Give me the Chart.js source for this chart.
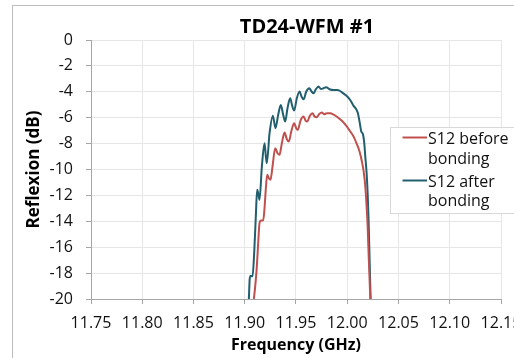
<!DOCTYPE html>
<html>
<head>
<meta charset="utf-8">
<script src="https://cdn.jsdelivr.net/npm/chart.js@4.4.0/dist/chart.umd.min.js"></script>
<style>
  html, body { margin: 0; padding: 0; background: #fff; overflow: hidden; width: 514px; height: 358px; }
  #wrap { position: absolute; left: 0; top: 0; width: 614px; height: 358px; }
</style>
</head>
<body>
<div id="wrap"><canvas id="c"></canvas></div>
<script>
const chartTitle = 'TD24-WFM #1';
const xTitle = 'Frequency (GHz)';
const yTitle = 'Reflexion (dB)';
const seriesNames = ['S12 before bonding', 'S12 after bonding'];
const legendLines = [['S12 before', 'bonding'], ['S12 after', 'bonding']];

const freqBefore = [11.9089, 11.9102, 11.9118, 11.9131, 11.9144, 11.9157, 11.9180, 11.9193, 11.9206, 11.9219,
  11.9235, 11.9251, 11.9271, 11.9297, 11.9320, 11.9339, 11.9362, 11.9388, 11.9411, 11.9430,
  11.9456, 11.9482, 11.9502, 11.9518, 11.9544, 11.9574, 11.9593, 11.9609, 11.9635, 11.9661,
  11.9681, 11.9701, 11.9727, 11.9753, 11.9775, 11.9801, 11.9834, 11.9867, 11.9906, 11.9945,
  11.9984, 12.0023, 12.0062, 12.0094, 12.0120, 12.0143, 12.0160, 12.0176, 12.0189, 12.0199,
  12.0208, 12.0218, 12.0225];
const s12Before = [-20, -19.02, -17.48, -15.68, -14.14, -13.93, -13.93, -12.98, -11.44, -10.41,
  -10.67, -10.8, -9.77, -8.35, -8.74, -8.87, -7.97, -7.15, -7.66, -7.84,
  -6.99, -6.43, -6.81, -6.94, -6.22, -5.91, -6.22, -6.3, -5.86, -5.66,
  -5.91, -5.96, -5.71, -5.6, -5.73, -5.66, -5.66, -5.76, -5.96, -6.22,
  -6.56, -6.99, -7.46, -8.05, -8.61, -9.38, -10.15, -11.31, -12.85, -14.4,
  -16.45, -18.51, -20];

const freqAfter = [11.9040, 11.9049, 11.9059, 11.9076, 11.9092, 11.9108, 11.9121, 11.9134, 11.9144, 11.9167,
  11.9193, 11.9206, 11.9215, 11.9242, 11.9274, 11.9300, 11.9326, 11.9352, 11.9375, 11.9395,
  11.9417, 11.9443, 11.9463, 11.9482, 11.9508, 11.9535, 11.9554, 11.9574, 11.9600, 11.9629,
  11.9652, 11.9671, 11.9694, 11.9720, 11.9743, 11.9762, 11.9795, 11.9827, 11.9867, 11.9906,
  11.9948, 11.9990, 12.0029, 12.0062, 12.0088, 12.0104, 12.0120, 12.0137, 12.0153, 12.0166,
  12.0176, 12.0189, 12.0199, 12.0208, 12.0218, 12.0228];
const s12After = [-20, -18.38, -18.2, -18.25, -16.45, -13.62, -11.57, -11.95, -12.34, -9.77,
  -7.97, -9.0, -9.51, -7.2, -5.84, -6.81, -5.78, -5.01, -5.78, -6.3,
  -5.27, -4.5, -5.09, -5.45, -4.5, -3.98, -4.37, -4.58, -3.98, -3.73,
  -3.98, -4.11, -3.8, -3.6, -3.78, -3.75, -3.65, -3.8, -3.86, -3.86,
  -4.04, -4.29, -4.63, -5.09, -5.35, -5.66, -6.3, -7.07, -7.28, -7.97,
  -9.0, -10.28, -11.83, -13.88, -16.97, -20];

const xMin = 11.75, xMax = 12.15, xStep = 0.05;
const yMin = -20, yMax = 0, yStep = 2;

const colors = ['#C0504D', '#215E6E'];
const FONT = "'Open Sans', 'Liberation Sans', sans-serif";

function pts(xs, ys) { return xs.map((x, i) => ({ x: x, y: ys[i] })); }

const framePlugin = {
  id: 'outerFrame',
  beforeDraw(chart) {
    const ctx = chart.ctx;
    ctx.save();
    ctx.fillStyle = '#ffffff';
    ctx.fillRect(0, 0, chart.width, chart.height);
    ctx.strokeStyle = '#bdbdbd';
    ctx.lineWidth = 1;
    ctx.strokeRect(12.5, 5.5, chart.width, chart.height);
    ctx.restore();
  }
};

const legendPlugin = {
  id: 'boxLegend',
  afterDraw(chart) {
    const ctx = chart.ctx;
    const ca = chart.chartArea;
    const bx = ca.right - 110.5, by = ca.top + 87.5;
    ctx.save();
    ctx.fillStyle = '#ffffff';
    ctx.strokeStyle = '#d9d9d9';
    ctx.lineWidth = 1;
    ctx.fillRect(bx, by, 200, 86);
    ctx.strokeRect(bx, by, 200, 86);
    ctx.font = '16px ' + FONT;
    ctx.textBaseline = 'alphabetic';
    ctx.textAlign = 'left';
    const lineY = [by + 10, by + 53];
    const baselines = [[by + 16.5, by + 36], [by + 59.2, by + 78.5]];
    chart.data.datasets.forEach((ds, i) => {
      ctx.strokeStyle = ds.borderColor;
      ctx.lineWidth = 2;
      ctx.beginPath();
      ctx.moveTo(bx + 12, lineY[i]);
      ctx.lineTo(bx + 36.5, lineY[i]);
      ctx.stroke();
      ctx.fillStyle = '#111';
      legendLines[i].forEach((t, j) => ctx.fillText(t, bx + 37.5, baselines[i][j]));
    });
    ctx.restore();
  }
};

new Chart(document.getElementById('c'), {
  type: 'scatter',
  data: {
    datasets: [
      { label: seriesNames[0], data: pts(freqBefore, s12Before), borderColor: colors[0], backgroundColor: colors[0],
        showLine: true, borderWidth: 2, pointRadius: 0, cubicInterpolationMode: 'monotone' },
      { label: seriesNames[1], data: pts(freqAfter, s12After), borderColor: colors[1], backgroundColor: colors[1],
        showLine: true, borderWidth: 2, pointRadius: 0, cubicInterpolationMode: 'monotone' }
    ]
  },
  options: {
    responsive: true,
    maintainAspectRatio: false,
    animation: false,
    devicePixelRatio: 1,
    layout: { padding: { left: 0, top: 0, right: 0, bottom: 0 } },
    plugins: {
      legend: { display: false },
      tooltip: { enabled: false },
      title: {
        display: true, text: chartTitle, color: '#000',
        font: { family: FONT, size: 20, weight: 'bold' },
        padding: { top: 15.5, bottom: 0.5 }
      }
    },
    scales: {
      x: {
        type: 'linear', min: xMin, max: xMax,
        afterFit(s) { s.height = 59; },
        ticks: { stepSize: xStep, color: '#111', padding: 10, font: { family: FONT, size: 16 },
          callback: v => Number(v).toFixed(2), maxRotation: 0, autoSkip: false },
        grid: { color: '#e6e6e6', lineWidth: 1, tickLength: 5, tickColor: '#a6a6a6' },
        border: { color: '#a6a6a6', width: 1 },
        title: { display: true, text: xTitle, color: '#000', font: { family: FONT, size: 16, weight: 'bold' },
          padding: { top: 0, bottom: 3.4 } }
      },
      y: {
        type: 'linear', min: yMin, max: yMax,
        afterFit(s) { s.width = 91; },
        ticks: { stepSize: yStep, color: '#111', padding: 13, font: { family: FONT, size: 16 } },
        grid: { color: '#e6e6e6', lineWidth: 1, tickLength: 5, tickColor: '#a6a6a6' },
        border: { color: '#a6a6a6', width: 1 },
        title: { display: true, text: yTitle, color: '#000', font: { family: FONT, size: 17, weight: 'bold' },
          padding: { top: 23.8, bottom: 0 } }
      },
      yRight: {
        type: 'linear', position: 'right', min: yMin, max: yMax,
        afterFit(s) { s.width = 113; },
        ticks: { display: false },
        grid: { display: false, drawOnChartArea: false },
        border: { display: false },
        title: { display: false }
      }
    }
  },
  plugins: [framePlugin, legendPlugin]
});
</script>
</body>
</html>
